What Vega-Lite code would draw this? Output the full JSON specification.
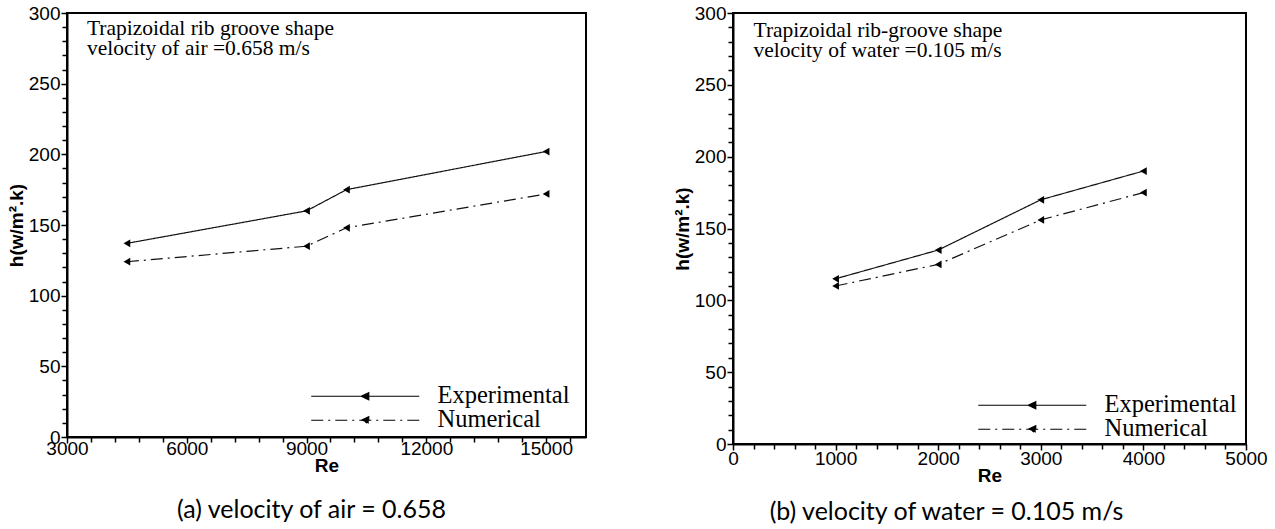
{
  "$schema": "https://vega.github.io/schema/vega-lite/v6.json",
  "padding": {"left": 6, "top": 3, "right": 5, "bottom": 0},
  "background": "white",
  "spacing": 85,
  "config": {
    "view": {"stroke": "black", "strokeWidth": 2},
    "axis": {
      "domainColor": "black", "domainWidth": 2, "tickColor": "black", "tickWidth": 1.5,
      "labelFont": "Liberation Sans", "labelFontSize": 19, "labelColor": "black", "labelPadding": 1,
      "labelFlush": false, "labelOverlap": false,
      "titleFont": "Liberation Sans", "titleFontSize": 19, "titleFontWeight": "bold", "titleColor": "black",
      "grid": false
    },
    "title": {"font": "Lato", "fontSize": 25, "fontWeight": "normal", "color": "black"}
  },
  "resolve": {"scale": {"strokeDash": "independent"}, "legend": {"strokeDash": "independent"}},
  "hconcat": [
    {
      "width": 519, "height": 424,
      "title": {"text": "(a) velocity of air = 0.658", "orient": "bottom", "anchor": "middle", "frame": "group", "dx": -15, "offset": 23},
      "data": {"values": [
        {"Re": 4500, "h": 137, "series": "Experimental"},
        {"Re": 9000, "h": 160, "series": "Experimental"},
        {"Re": 10000, "h": 175, "series": "Experimental"},
        {"Re": 15000, "h": 202, "series": "Experimental"},
        {"Re": 4500, "h": 124, "series": "Numerical"},
        {"Re": 9000, "h": 135, "series": "Numerical"},
        {"Re": 10000, "h": 148, "series": "Numerical"},
        {"Re": 15000, "h": 172, "series": "Numerical"}
      ]},
      "layer": [
        {
          "mark": {"type": "line", "color": "#111", "strokeWidth": 1.2},
          "encoding": {
            "x": {"field": "Re", "type": "quantitative",
              "scale": {"domain": [3000, 16000], "nice": false, "zero": false},
              "axis": {"title": "Re", "format": "d", "labelPadding": -4, "titlePadding": -2, "labelOverlap": false,
                "values": [3000,3600,4200,4800,5400,6000,6600,7200,7800,8400,9000,9600,10200,10800,11400,12000,12600,13200,13800,14400,15000,15600],
                "labelExpr": "datum.value % 3000 === 0 ? datum.label : ''",
                "tickSize": {"condition": {"test": "datum.value % 3000 === 0", "value": 6}, "value": 5}}},
            "y": {"field": "h", "type": "quantitative",
              "scale": {"domain": [0, 300], "nice": false},
              "axis": {"title": "h(w/m².k)", "titlePadding": 2, "labelOverlap": false,
                "values": [0,10,20,30,40,50,60,70,80,90,100,110,120,130,140,150,160,170,180,190,200,210,220,230,240,250,260,270,280,290,300],
                "labelExpr": "datum.value % 50 === 0 ? datum.label : ''",
                "tickSize": {"condition": {"test": "datum.value % 50 === 0", "value": 6}, "value": 5}}},
            "strokeDash": {"field": "series", "type": "nominal",
              "scale": {"domain": ["Experimental", "Numerical"], "range": [[1, 0], [12, 5, 2, 5]]},
              "legend": {"orient": "none", "legendX": 286, "legendY": 371, "title": null,
                "symbolType": "M-5.4,0H5.4M-0.4,0L0.35,-0.35L0.35,0.35Z", "symbolSize": 400,
                "symbolStrokeColor": "black", "symbolFillColor": "black", "symbolStrokeWidth": 1.2,
                "labelFont": "Liberation Serif", "labelFontSize": 24.5, "labelColor": "black",
                "labelOffset": 60, "rowPadding": -4, "labelLimit": 300}}
          }
        },
        {
          "mark": {"type": "point", "shape": "triangle-left", "filled": true, "color": "black", "size": 60, "opacity": 1},
          "encoding": {
            "x": {"field": "Re", "type": "quantitative",
              "axis": {"title": "Re", "format": "d", "labelPadding": -4, "titlePadding": -2, "labelOverlap": false,
                "values": [3000,3600,4200,4800,5400,6000,6600,7200,7800,8400,9000,9600,10200,10800,11400,12000,12600,13200,13800,14400,15000,15600],
                "labelExpr": "datum.value % 3000 === 0 ? datum.label : ''",
                "tickSize": {"condition": {"test": "datum.value % 3000 === 0", "value": 6}, "value": 5}}},
            "y": {"field": "h", "type": "quantitative",
              "axis": {"title": "h(w/m².k)", "titlePadding": 2, "labelOverlap": false,
                "values": [0,10,20,30,40,50,60,70,80,90,100,110,120,130,140,150,160,170,180,190,200,210,220,230,240,250,260,270,280,290,300],
                "labelExpr": "datum.value % 50 === 0 ? datum.label : ''",
                "tickSize": {"condition": {"test": "datum.value % 50 === 0", "value": 6}, "value": 5}}},
            "detail": {"field": "series"}
          }
        },
        {
          "data": {"values": [{}]},
          "mark": {"type": "text", "align": "left", "baseline": "alphabetic", "font": "Liberation Serif", "fontSize": 21.5, "lineHeight": 20, "color": "black",
            "text": ["Trapizoidal rib groove shape", "velocity of air =0.658 m/s"]},
          "encoding": {
            "x": {"datum": 3500,
              "axis": {"title": "Re", "format": "d", "labelPadding": -4, "titlePadding": -2, "labelOverlap": false,
                "values": [3000,3600,4200,4800,5400,6000,6600,7200,7800,8400,9000,9600,10200,10800,11400,12000,12600,13200,13800,14400,15000,15600],
                "labelExpr": "datum.value % 3000 === 0 ? datum.label : ''",
                "tickSize": {"condition": {"test": "datum.value % 3000 === 0", "value": 6}, "value": 5}}},
            "y": {"datum": 284.5,
              "axis": {"title": "h(w/m².k)", "titlePadding": 2, "labelOverlap": false,
                "values": [0,10,20,30,40,50,60,70,80,90,100,110,120,130,140,150,160,170,180,190,200,210,220,230,240,250,260,270,280,290,300],
                "labelExpr": "datum.value % 50 === 0 ? datum.label : ''",
                "tickSize": {"condition": {"test": "datum.value % 50 === 0", "value": 6}, "value": 5}}}
          }
        }
      ]
    },
    {
      "width": 513, "height": 431,
      "title": {"text": "(b) velocity of water = 0.105 m/s", "orient": "bottom", "anchor": "middle", "frame": "group", "dx": -43, "offset": 15},
      "data": {"values": [
        {"Re": 1000, "h": 115, "series": "Experimental"},
        {"Re": 2000, "h": 135, "series": "Experimental"},
        {"Re": 3000, "h": 170, "series": "Experimental"},
        {"Re": 4000, "h": 190, "series": "Experimental"},
        {"Re": 1000, "h": 110, "series": "Numerical"},
        {"Re": 2000, "h": 125, "series": "Numerical"},
        {"Re": 3000, "h": 156, "series": "Numerical"},
        {"Re": 4000, "h": 175, "series": "Numerical"}
      ]},
      "layer": [
        {
          "mark": {"type": "line", "color": "#111", "strokeWidth": 1.2},
          "encoding": {
            "x": {"field": "Re", "type": "quantitative",
              "scale": {"domain": [0, 5000], "nice": false},
              "axis": {"title": "Re", "format": "d", "labelPadding": -1, "titlePadding": -2, "labelOverlap": false,
                "values": [0,200,400,600,800,1000,1200,1400,1600,1800,2000,2200,2400,2600,2800,3000,3200,3400,3600,3800,4000,4200,4400,4600,4800,5000],
                "labelExpr": "datum.value % 1000 === 0 ? datum.label : ''",
                "tickSize": {"condition": {"test": "datum.value % 1000 === 0", "value": 6}, "value": 5}}},
            "y": {"field": "h", "type": "quantitative",
              "scale": {"domain": [0, 300], "nice": false},
              "axis": {"title": "h(w/m².k)", "titlePadding": 2, "labelOverlap": false,
                "values": [0,10,20,30,40,50,60,70,80,90,100,110,120,130,140,150,160,170,180,190,200,210,220,230,240,250,260,270,280,290,300],
                "labelExpr": "datum.value % 50 === 0 ? datum.label : ''",
                "tickSize": {"condition": {"test": "datum.value % 50 === 0", "value": 6}, "value": 5}}},
            "strokeDash": {"field": "series", "type": "nominal",
              "scale": {"domain": ["Experimental", "Numerical"], "range": [[1, 0], [12, 5, 2, 5]]},
              "legend": {"orient": "none", "legendX": 287, "legendY": 380, "title": null,
                "symbolType": "M-5.4,0H5.4M-0.4,0L0.35,-0.35L0.35,0.35Z", "symbolSize": 400,
                "symbolStrokeColor": "black", "symbolFillColor": "black", "symbolStrokeWidth": 1.2,
                "labelFont": "Liberation Serif", "labelFontSize": 24.5, "labelColor": "black",
                "labelOffset": 60, "rowPadding": -3, "labelLimit": 300}}
          }
        },
        {
          "mark": {"type": "point", "shape": "triangle-left", "filled": true, "color": "black", "size": 60, "opacity": 1},
          "encoding": {
            "x": {"field": "Re", "type": "quantitative",
              "axis": {"title": "Re", "format": "d", "labelPadding": -1, "titlePadding": -2, "labelOverlap": false,
                "values": [0,200,400,600,800,1000,1200,1400,1600,1800,2000,2200,2400,2600,2800,3000,3200,3400,3600,3800,4000,4200,4400,4600,4800,5000],
                "labelExpr": "datum.value % 1000 === 0 ? datum.label : ''",
                "tickSize": {"condition": {"test": "datum.value % 1000 === 0", "value": 6}, "value": 5}}},
            "y": {"field": "h", "type": "quantitative",
              "axis": {"title": "h(w/m².k)", "titlePadding": 2, "labelOverlap": false,
                "values": [0,10,20,30,40,50,60,70,80,90,100,110,120,130,140,150,160,170,180,190,200,210,220,230,240,250,260,270,280,290,300],
                "labelExpr": "datum.value % 50 === 0 ? datum.label : ''",
                "tickSize": {"condition": {"test": "datum.value % 50 === 0", "value": 6}, "value": 5}}},
            "detail": {"field": "series"}
          }
        },
        {
          "data": {"values": [{}]},
          "mark": {"type": "text", "align": "left", "baseline": "alphabetic", "font": "Liberation Serif", "fontSize": 21.5, "lineHeight": 20, "color": "black",
            "text": ["Trapizoidal rib-groove shape", "velocity of water =0.105 m/s"]},
          "encoding": {
            "x": {"datum": 200,
              "axis": {"title": "Re", "format": "d", "labelPadding": -1, "titlePadding": -2, "labelOverlap": false,
                "values": [0,200,400,600,800,1000,1200,1400,1600,1800,2000,2200,2400,2600,2800,3000,3200,3400,3600,3800,4000,4200,4400,4600,4800,5000],
                "labelExpr": "datum.value % 1000 === 0 ? datum.label : ''",
                "tickSize": {"condition": {"test": "datum.value % 1000 === 0", "value": 6}, "value": 5}}},
            "y": {"datum": 283.3,
              "axis": {"title": "h(w/m².k)", "titlePadding": 2, "labelOverlap": false,
                "values": [0,10,20,30,40,50,60,70,80,90,100,110,120,130,140,150,160,170,180,190,200,210,220,230,240,250,260,270,280,290,300],
                "labelExpr": "datum.value % 50 === 0 ? datum.label : ''",
                "tickSize": {"condition": {"test": "datum.value % 50 === 0", "value": 6}, "value": 5}}}
          }
        }
      ]
    }
  ]
}
